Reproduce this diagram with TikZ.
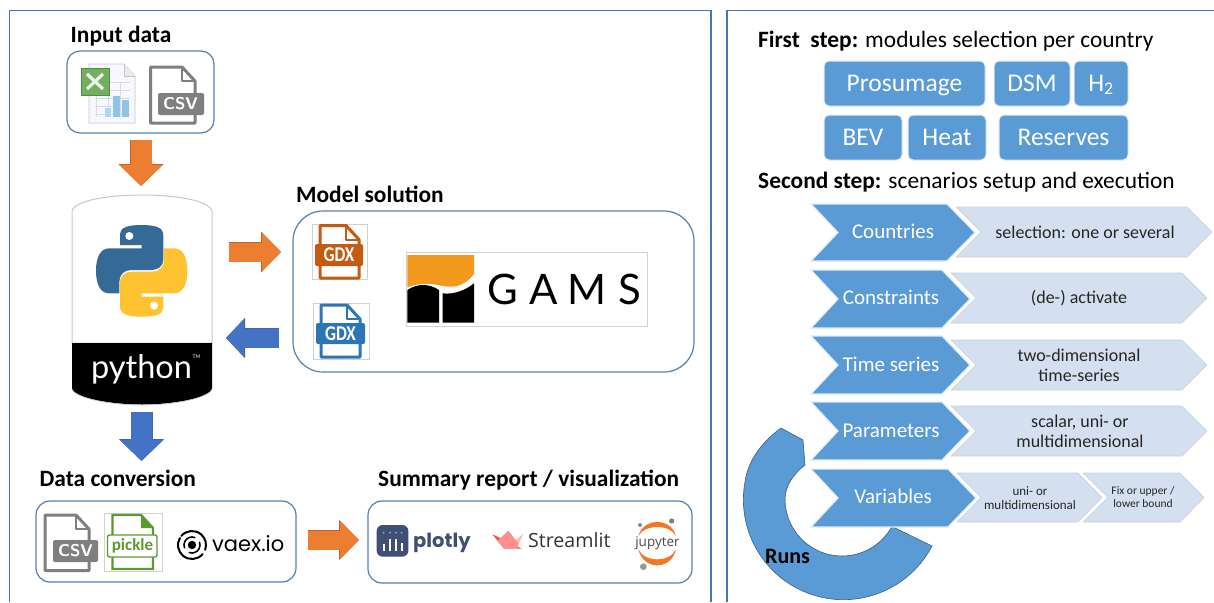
\documentclass[tikz,border=0pt]{standalone}
\usepackage{graphicx}
\usepackage{fontspec}
\setmainfont{Carlito}
\newfontfamily\lato{Lato}
\newfontfamily\pop{Poppins}
\newfontfamily\opens{Open Sans}
\usetikzlibrary{arrows.meta,calc}
\definecolor{framec}{HTML}{4A76A8}
\definecolor{boxc}{HTML}{5580AC}
\definecolor{modc}{HTML}{5B9BD5}
\definecolor{lightc}{HTML}{D4DFEF}
\definecolor{orangec}{HTML}{ED7D31}
\definecolor{orangee}{HTML}{B9652F}
\definecolor{bluec}{HTML}{4472C4}
\definecolor{bluee}{HTML}{3F66AE}
\definecolor{csvc}{HTML}{7F7F7F}
\definecolor{gdxo}{HTML}{C55A11}
\definecolor{gdxb}{HTML}{2E75B6}
\definecolor{pyb}{HTML}{366A96}
\definecolor{pyy}{HTML}{FFC331}
\definecolor{pkl}{HTML}{5B9A2F}
\definecolor{plotc}{HTML}{3F4F75}
\definecolor{jup}{HTML}{F37726}
\definecolor{gamso}{HTML}{F39A1E}
\definecolor{xlg}{HTML}{74AE60}
\definecolor{xle}{HTML}{4F8F3F}
\definecolor{xlb}{HTML}{8EC4E8}
\definecolor{slr}{HTML}{FF4B4B}
\definecolor{slm}{HTML}{FF8F8F}
\definecolor{sll}{HTML}{FFBDBD}
\newcommand{\fsz}[1]{\fontsize{#1}{#1}\selectfont}
\newcommand{\blockarrow}[7]{%
 \draw[#4,line width=#5pt+1pt,-{Triangle[length=#6pt+1pt,width=#7pt+2pt]}] (#1) -- (#2);
 \draw[#3,line width=#5pt,-{Triangle[length=#6pt,width=#7pt]}] (#1) -- (#2);}
\newcommand{\fileicon}[8]{%
 \draw[line width=3pt,line join=round,fill=white] (#1,#2) -- ($(#3,#2)+(-13,0)$) -- ($(#3,#2)+(0,14)$) -- (#3,#4) -- (#1,#4) -- cycle;
 \draw[line width=2pt,line join=round] ($(#3,#2)+(-13,0)$) -- ($(#3,#2)+(-13,14)$) -- ($(#3,#2)+(0,14)$);
 \path[fill,rounded corners=2pt] (#5,#6) rectangle (#7,#8);}
\newcommand{\chev}[8]{%
 \path[#8] (#1,#5) -- (#2,#5) -- (#3,#6) -- (#2,#7) -- (#1,#7) -- (#4,#6) -- cycle;}
\newcommand{\snake}{(210,132) .. controls (210,112) and (235,105) .. (275,105) .. controls (315,105) and (340,112) .. (340,135) -- (340,208) .. controls (340,228) and (325,240) .. (305,240) -- (243,240) .. controls (222,240) and (208,255) .. (208,275) -- (208,310) -- (178,310) .. controls (152,310) and (138,285) .. (138,242) .. controls (138,200) and (152,175) .. (178,175) -- (275,175) -- (275,165) -- (210,165) -- cycle}
\tikzset{
 frame/.style={draw=framec,line width=1.4pt},
 groupbox/.style={draw=boxc,line width=1.2pt,fill=white},
 title/.style={anchor=base west,inner sep=0pt,font=\fsz{23.4}},
 modbox/.style={draw=modc!20!white,line width=1pt,fill=modc,rounded corners=5pt,text=white,font=\fsz{25.5},inner sep=0pt,anchor=center,text height=15pt,text depth=0pt},
 darkchev/.style={fill=modc,draw=modc!18!white,line width=1.2pt},
 lightchev/.style={fill=lightc,draw=lightc!85!gray,line width=.6pt},
 chevtext/.style={text=white,font=\fsz{21},inner sep=0pt,anchor=center,text height=13pt,text depth=0pt},
 lighttext/.style={text=black!85,font=\fontsize{18}{20}\selectfont,inner sep=0pt,anchor=center,align=center},
 smalltext/.style={text=black!85,font=\fontsize{13}{14.5}\selectfont,inner sep=0pt,anchor=center,align=center},
 logoborder/.style={draw=black!18,line width=.7pt,fill=white},
 icontext/.style={text=white,inner sep=0pt,anchor=center},
}
\begin{document}
\begin{tikzpicture}[x=1pt,y=1pt,yscale=-1]
\useasboundingbox (0,0) rectangle (1214,602);
\fill[white] (0,0) rectangle (1214,602);
% panels
\draw[frame] (9.5,602) -- (9.5,10.5) -- (711,10.5) -- (711,602);
\draw[frame] (727,602) -- (727,10.5) -- (1214,10.5);

% ---------- Input data
\node[title] (tinput) at (70.5,43) {\textbf{Input data}};
\draw[groupbox,rounded corners=13pt] (67,51) rectangle (214,133);
% excel
\draw[fill=blue!3!white,draw=black!22,line width=.8pt] (89,64) -- (124,64) -- (135,76) -- (135,123) -- (89,123) -- cycle;
\draw[fill=black!8,draw=black!22,line width=.6pt] (124,64) -- (124,76) -- (135,76);
\foreach \yy in {82,90,98,106,114}{\draw[black!14,line width=.5pt] (95,\yy) -- (130,\yy);}
\foreach \xx in {96,108,120}{\draw[black!14,line width=.5pt] (\xx,82) -- (\xx,117);}
\fill[xlb!70!white] (105,108) rectangle (111,117);
\fill[xlb] (113,96) rectangle (120,117);
\fill[xlb] (122,100) rectangle (129,117);
\draw[fill=xlg,draw=xle,line width=.9pt] (81,68) rectangle (109,95);
\draw[xlg!15!white,line width=3.2pt] (87,74) -- (103,89) (103,74) -- (87,89);
% csv
\begin{scope}[draw=csvc,fill=csvc]
\fileicon{150.5}{67}{195}{123}{158}{93}{204}{115}
\end{scope}
\node[icontext,font=\fsz{17}\bfseries\sffamily] (csva) at (180.5,104) {CSV};

\coordinate (a1s) at (141,139.5);
\coordinate (a1e) at (141,186);
\blockarrow{a1s}{a1e}{orangec}{orangee}{21}{21}{42}

% ---------- Python badge
\draw[fill=white,draw=black!22,line width=1pt] (72,343) -- (72,211) .. controls (75,200) and (110,195) .. (142,195) .. controls (174,195) and (209,200) .. (212,211) -- (212,343) -- cycle;
\fill[black] (72,343) rectangle (212,389) (72,389) .. controls (75,398) and (110,404.5) .. (142,404.5) .. controls (174,404.5) and (209,398) .. (212,389) -- cycle;
\draw[black!25,line width=.6pt] (72,389) .. controls (75,398) and (110,405) .. (142,405) .. controls (174,405) and (209,398) .. (212,389);
\begin{scope}[shift={(50,190)},scale=1/3]
\fill[pyb] \snake;
\fill[white] (238,138) circle (12);
\begin{scope}[rotate around={180:(275,242.5)}]
\fill[pyy] \snake;
\fill[white] (238,138) circle (12);
\end{scope}
\end{scope}
\node[text=white,font=\lato\fsz{32.5},inner sep=0pt,anchor=base] (pyname) at (141.5,378) {python};
\node[text=white,font=\lato\fsz{5},inner sep=0pt] (pytm) at (196.5,357) {TM};

% ---------- Model solution
\node[title] (tmodel) at (296,202) {\textbf{Model solution}};
\draw[groupbox,rounded corners=30pt] (293,211) rectangle (694,372);
\coordinate (a2s) at (229,252);
\coordinate (a2e) at (281,252);
\blockarrow{a2s}{a2e}{orangec}{orangee}{19}{19}{38}
\coordinate (a3s) at (279,338);
\coordinate (a3e) at (226,338);
\blockarrow{a3s}{a3e}{bluec}{bluee}{19}{18}{37}
\draw[logoborder] (312,224) rectangle (367,279);
\begin{scope}[draw=gdxo,fill=gdxo]
\fileicon{320}{225.5}{359}{278}{315}{244}{363}{266}
\end{scope}
\node[icontext,font=\fsz{21}\bfseries] (gdxa) at (339,255) {\scalebox{.82}[1]{GDX}};
\draw[logoborder] (313,303) rectangle (369,359);
\begin{scope}[draw=gdxb,fill=gdxb]
\fileicon{321}{305}{360}{357}{316}{323}{365}{344}
\end{scope}
\node[icontext,font=\fsz{21}\bfseries] (gdxb) at (340.5,334) {\scalebox{.82}[1]{GDX}};
% GAMS
\draw[logoborder] (406,252) rectangle (647,326);
\begin{scope}[shift={(290,200)},scale=1/3]
\fill[gamso] (352,165) -- (552,165) -- (552,222) .. controls (530,250) and (505,262) .. (475,260) .. controls (440,258) and (415,240) .. (352,262) -- cycle;
\fill[black] (352,270) .. controls (385,248) and (420,252) .. (447,270) -- (447,368) -- (352,368) -- cycle;
\fill[black] (458,280) .. controls (490,284) and (525,272) .. (552,250) -- (552,368) -- (458,368) -- cycle;
\end{scope}
\node[font=\lato\fsz{42},inner sep=0pt,anchor=base] (gamsg) at (503,304) {G};
\node[font=\lato\fsz{42},inner sep=0pt,anchor=base] (gamsa) at (544,304) {A};
\node[font=\lato\fsz{42},inner sep=0pt,anchor=base] (gamsm) at (587,304) {M};
\node[font=\lato\fsz{42},inner sep=0pt,anchor=base] (gamss) at (630,304) {S};

\coordinate (a4s) at (141.5,411.5);
\coordinate (a4e) at (141.5,461);
\blockarrow{a4s}{a4e}{bluec}{bluee}{21}{21}{42}

% ---------- Data conversion
\node[title] (tdata) at (39.5,486) {\textbf{Data conversion}};
\draw[groupbox,rounded corners=14pt] (36,501) rectangle (296,582);
\begin{scope}[draw=csvc,fill=csvc]
\fileicon{45}{515}{89}{570.5}{53}{540}{98}{562}
\end{scope}
\node[icontext,font=\fsz{17}\bfseries\sffamily] (csvb) at (75.5,551) {CSV};
\draw[logoborder] (104,513) rectangle (162,571);
\draw[draw=pkl,fill=white,line width=2.4pt] (112.5,515) -- (141,515) -- (153,528) -- (153,569) -- (112.5,569) -- cycle;
\fill[pkl] (141,515) -- (153,528) -- (141,528) -- cycle;
\draw[draw=pkl,fill=white,line width=1.4pt,rounded corners=2pt] (107.5,535) rectangle (157,557);
\node[text=pkl,inner sep=0pt,font=\fsz{17}\bfseries] (pickle) at (132.5,545.5) {pickle};
% vaex swirl
\begin{scope}[line cap=round,black]
\fill (192,545) circle (4.2);
\draw[line width=2pt] (192,545) ++(40:14) arc[start angle=40,end angle=210,radius=14];
\draw[line width=2pt] (192,545) ++(220:14) arc[start angle=220,end angle=380,radius=14];
\draw[line width=1.6pt] (192,545) ++(-20:8) arc[start angle=-20,end angle=110,radius=8];
\draw[line width=1.6pt] (192,545) ++(160:8) arc[start angle=160,end angle=290,radius=8];
\end{scope}
\node[font=\pop\fsz{21},inner sep=0pt,anchor=base west] (vaex) at (212,551.5) {vaex.io};

\coordinate (a5s) at (308,540);
\coordinate (a5e) at (359,540);
\blockarrow{a5s}{a5e}{orangec}{orangee}{19}{19}{37}

% ---------- Summary
\node[title] (tsum) at (378,486) {\textbf{Summary report / visualization}};
\draw[groupbox,rounded corners=14pt] (368,501) rectangle (692,583);
\begin{scope}[shift={(360,460)},scale=1/3]
\fill[plotc,rounded corners=6pt] (50,195) rectangle (145,290);
\foreach \xx in {71,90,108,125}{\fill[teal!50!cyan!70!white] (\xx,218) circle (3);}
\fill[white] (68,252) rectangle (74,272);
\fill[white] (87,238) rectangle (93,272);
\fill[white] (105,238) rectangle (111,272);
\fill[white] (122,250) rectangle (128,272);
% streamlit crown
\fill[slr] (397,223) -- (432,266) -- (485,266) -- (445,245) -- cycle;
\fill[sll] (490,222) -- (470,266) -- (432,266) -- cycle;
\fill[slm] (445,212) -- (412,243) -- (432,266) -- (470,266) -- (475,250) -- cycle;
% jupyter
\fill[jup] (835,228) .. controls (850,172) and (934,172) .. (948,228) .. controls (930,192) and (853,192) .. (835,228) -- cycle;
\fill[jup] (835,268) .. controls (850,332) and (934,332) .. (948,268) .. controls (930,308) and (853,308) .. (835,268) -- cycle;
\fill[black!45] (840,195) circle (6);
\fill[black!50] (935,183) circle (8);
\fill[black!40] (850,320) circle (10);
\end{scope}
\node[font=\pop\bfseries\fsz{19.5},text=plotc,inner sep=0pt,anchor=base west] (plotly) at (413,547) {plotly};
\node[font=\opens\fsz{19.6},text=black!80,inner sep=0pt,anchor=base west] (streamlit) at (528,547) {Streamlit};
\node[font=\opens\fsz{13.5},text=black!70,inner sep=0pt] (jupyter) at (657.5,543.5) {jupyter};

% ---------- Right: first step
\node[title] (tfirst) at (758,48) {\textbf{First\ \ step:} modules selection per country};
\node[modbox,minimum width=161pt,minimum height=45pt] (prosumage) at (904.5,83.5) {Prosumage};
\node[modbox,minimum width=76pt,minimum height=45pt] (dsm) at (1032,83.5) {DSM};
\node[modbox,minimum width=54pt,minimum height=45pt] (htwo) at (1101,83.5) {H\textsubscript{2}};
\node[modbox,minimum width=78pt,minimum height=45pt] (bev) at (863,137.5) {BEV};
\node[modbox,minimum width=78pt,minimum height=45pt] (heat) at (947,137.5) {Heat};
\node[modbox,minimum width=129pt,minimum height=45pt] (reserves) at (1063.5,137.5) {Reserves};
\node[title] (tsecond) at (758,188) {\textbf{Second step:} scenarios setup and execution};

% ---------- Runs arc
\path[fill=modc,draw=framec!80!black,line width=.6pt] (932,546) arc[start angle=27.6,end angle=190,radius=100] .. controls (748,460) and (762,442) .. (781,428) -- (803,440) -- (805,465) .. controls (793,474) and (785,487) .. (785,499) arc[start angle=180,end angle=28.8,radius=57] -- cycle;

% ---------- Chevrons
\chev{956}{1187}{1212}{981}{207}{232}{257}{lightchev}
\chev{811}{947}{975}{838}{204}{232.5}{261}{darkchev}
\chev{951}{1182}{1207}{976}{273}{298}{323}{lightchev}
\chev{811}{942}{970}{838}{270}{299}{328}{darkchev}
\chev{951}{1182}{1207}{976}{340}{365}{390}{lightchev}
\chev{811}{942}{970}{838}{336}{365}{394}{darkchev}
\chev{951}{1182}{1207}{976}{406}{431}{456}{lightchev}
\chev{811}{942}{970}{838}{402}{431}{460}{darkchev}
\chev{1083}{1180}{1204}{1108}{473}{497.5}{522}{lightchev}
\chev{957}{1078}{1102}{981}{473}{497.5}{522}{lightchev}
\chev{811}{948}{976}{838}{469}{498}{527}{darkchev}
\node[chevtext] (countries) at (893,232) {Countries};
\node[chevtext] (constraints) at (891,298) {Constraints};
\node[chevtext] (timeseries) at (891,365) {Time series};
\node[chevtext] (parameters) at (891,431) {Parameters};
\node[chevtext] (variables) at (893,497) {Variables};
\node[lighttext] (l1) at (1085,232) {selection: one or several};
\node[lighttext] (l2) at (1079,298.5) {(de-) activate};
\node[lighttext] (l3) at (1079,365) {two-dimensional\\time-series};
\node[lighttext] (l4) at (1080,431.5) {scalar, uni- or\\multidimensional};
\node[smalltext] (l5) at (1030,498) {uni- or\\multidimensional};
\node[smalltext,font=\fontsize{11.5}{13}\selectfont] (l6) at (1143,497) {Fix or upper /\\lower bound};
\node[inner sep=0pt,font=\fsz{22}\bfseries,anchor=center] (runs) at (787.5,556) {Runs};
\end{tikzpicture}
\end{document}
